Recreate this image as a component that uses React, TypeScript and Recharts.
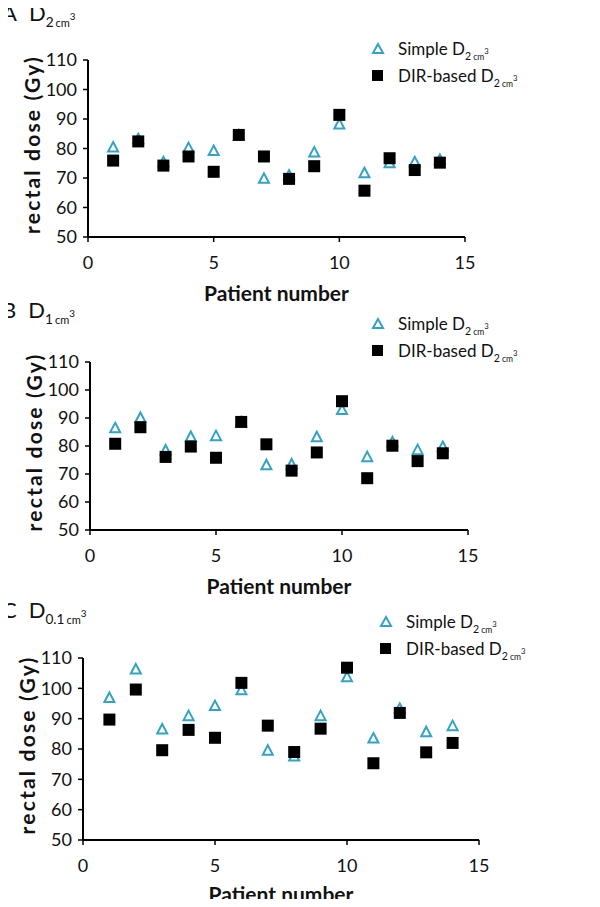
import React from "react";
import { ScatterChart, Scatter, XAxis, YAxis } from "recharts";

const patients = [1, 2, 3, 4, 5, 6, 7, 8, 9, 10, 11, 12, 13, 14];
const xTicks = [0, 5, 10, 15];
const yTicks = [50, 60, 70, 80, 90, 100, 110];

// A: D2cm3
const simpleA = [80.5, 83.3, 75.5, 80.3, 79.3, 84.6, 69.9, 71, 78.8, 88.3, 71.8, 75.2, 75.5, 76.3];
const dirA = [75.9, 82.4, 74.2, 77.3, 72.1, 84.6, 77.3, 69.7, 74, 91.4, 65.7, 76.7, 72.7, 75.2];
// B: D1cm3
const simpleB = [86.5, 90.2, 78.6, 83.4, 83.7, 88.6, 73.3, 73.6, 83.3, 93, 76.2, 81.5, 78.7, 79.8];
const dirB = [80.8, 86.7, 76.1, 79.8, 75.8, 88.6, 80.6, 71.2, 77.7, 96, 68.5, 80.1, 74.6, 77.4];
// C: D0.1cm3
const simpleC = [97, 106.4, 86.6, 91, 94.3, 99.5, 79.6, 77.7, 91, 103.8, 83.6, 93.4, 85.7, 87.7];
const dirC = [89.7, 99.6, 79.6, 86.3, 83.7, 101.8, 87.7, 79, 86.7, 106.8, 75.3, 91.9, 78.9, 82];

const TEAL = "#33a3c4";
const FONT = "Lato, 'Open Sans', sans-serif";

const toRows = (vals: number[]) => vals.map((v, i) => ({ patient: patients[i], dose: v }));

const Triangle = (props: any) => {
  const { cx, cy } = props;
  return (
    <path
      d={`M${cx},${cy - 5} L${cx + 5},${cy + 4.5} L${cx - 5},${cy + 4.5} Z`}
      fill="#fff"
      fillOpacity={0}
      stroke={TEAL}
      strokeWidth={2}
    />
  );
};

const Square = (props: any) => {
  const { cx, cy } = props;
  return <rect x={cx - 6} y={cy - 6} width={12} height={12} fill="#000" />;
};

const Dsub = ({ sub, big = 22 }: { sub: string; big?: number }) => (
  <span style={{ fontSize: big }}>
    D
    <span style={{ fontSize: big * 0.62, position: "relative", top: big * 0.28 }}>{sub}</span>
    <span style={{ fontSize: big * 0.5, position: "relative", top: big * 0.28, marginLeft: 2 }}>cm</span>
    <span style={{ fontSize: big * 0.45, position: "relative", top: -big * 0.05 }}>3</span>
  </span>
);

type PanelProps = {
  top: number;
  height: number;
  letter: string;
  sub: string;
  simple: number[];
  dir: number[];
  margin: { top: number; right: number; bottom: number; left: number };
  titleY: number;
  legendX: number;
  legendY: number;
  xLabelGap: number;
};

const Panel = ({ top, height, letter, sub, simple, dir, margin, titleY, legendX, legendY, xLabelGap }: PanelProps) => {
  return (
    <div style={{ position: "absolute", left: 0, top, width: 600, height }}>
      <ScatterChart width={600} height={height} margin={margin}>
        <XAxis
          type="number"
          dataKey="patient"
          domain={[0, 15]}
          ticks={xTicks}
          height={40}
          tickSize={5}
          tickMargin={14}
          axisLine={{ stroke: "#000", strokeWidth: 2 }}
          tickLine={{ stroke: "#000", strokeWidth: 1.5 }}
          tick={{ fill: "#111", fontSize: 18, fontFamily: FONT }}
          label={(p: any) => {
            const vb = p.viewBox;
            return (
              <text
                x={vb.x + vb.width / 2}
                y={vb.y + xLabelGap}
                textAnchor="middle"
                fontFamily={FONT}
                fontWeight={700}
                fontSize={21}
                fill="#111"
              >
                Patient number
              </text>
            );
          }}
        />
        <YAxis
          type="number"
          dataKey="dose"
          domain={[50, 110]}
          ticks={yTicks}
          width={60}
          tickSize={5}
          tickMargin={6}
          axisLine={{ stroke: "#000", strokeWidth: 2 }}
          tickLine={{ stroke: "#000", strokeWidth: 1.5 }}
          tick={{ fill: "#111", fontSize: 18, fontFamily: FONT }}
          label={(p: any) => {
            const vb = p.viewBox;
            const cx = vb.x + 3;
            const cy = vb.y + vb.height / 2 - 4;
            return (
              <text
                x={cx}
                y={cy}
                transform={`rotate(-90, ${cx}, ${cy})`}
                textAnchor="middle"
                dominantBaseline="central"
                fontFamily={FONT}
                fontWeight={700}
                fontSize={21}
                letterSpacing={2.2}
                fill="#111"
              >
                rectal dose (Gy)
              </text>
            );
          }}
        />
        <Scatter data={toRows(simple)} shape={Triangle} isAnimationActive={false} />
        <Scatter data={toRows(dir)} shape={Square} isAnimationActive={false} />
      </ScatterChart>
      <div
        style={{
          position: "absolute",
          left: 2,
          top: titleY,
          lineHeight: "26px",
          fontFamily: FONT,
          color: "#111",
          whiteSpace: "nowrap",
        }}
      >
        <span style={{ fontSize: 22, marginRight: 12 }}>{letter}</span>
        <Dsub sub={sub} />
      </div>
      <div
        style={{
          position: "absolute",
          left: legendX,
          top: legendY,
          fontFamily: FONT,
          fontSize: 17,
          color: "#111",
          lineHeight: "24px",
        }}
      >
        <div style={{ whiteSpace: "nowrap" }}>
          <svg width={20} height={14} style={{ marginRight: 10, verticalAlign: "-1px" }}>
            <path d="M10,2 L15,11 L5,11 Z" fill="none" stroke={TEAL} strokeWidth={2} />
          </svg>
          Simple <Dsub sub="2" big={17} />
        </div>
        <div style={{ whiteSpace: "nowrap" }}>
          <svg width={20} height={14} style={{ marginRight: 10, verticalAlign: "-1px" }}>
            <rect x={4} y={1} width={11} height={11} fill="#000" />
          </svg>
          DIR-based <Dsub sub="2" big={17} />
        </div>
      </div>
    </div>
  );
};

export default function App() {
  return (
    <div style={{ position: "relative", width: 600, height: 907, margin: -8, background: "#fff", overflow: "hidden" }}>
      <Panel
        top={0}
        height={310}
        letter="A"
        sub="2"
        simple={simpleA}
        dir={dirA}
        margin={{ top: 60, right: 135, bottom: 33, left: 28 }}
        titleY={0}
        legendX={368}
        legendY={37}
        xLabelGap={64}
      />
      <Panel
        top={300}
        height={310}
        letter="B"
        sub="1"
        simple={simpleB}
        dir={dirB}
        margin={{ top: 62, right: 132, bottom: 40, left: 30 }}
        titleY={-3}
        legendX={368}
        legendY={12}
        xLabelGap={64}
      />
      <Panel
        top={600}
        height={307}
        letter="C"
        sub="0.1"
        simple={simpleC}
        dir={dirC}
        margin={{ top: 58, right: 121, bottom: 27, left: 23 }}
        titleY={-3}
        legendX={376}
        legendY={10}
        xLabelGap={62}
      />
    </div>
  );
}
